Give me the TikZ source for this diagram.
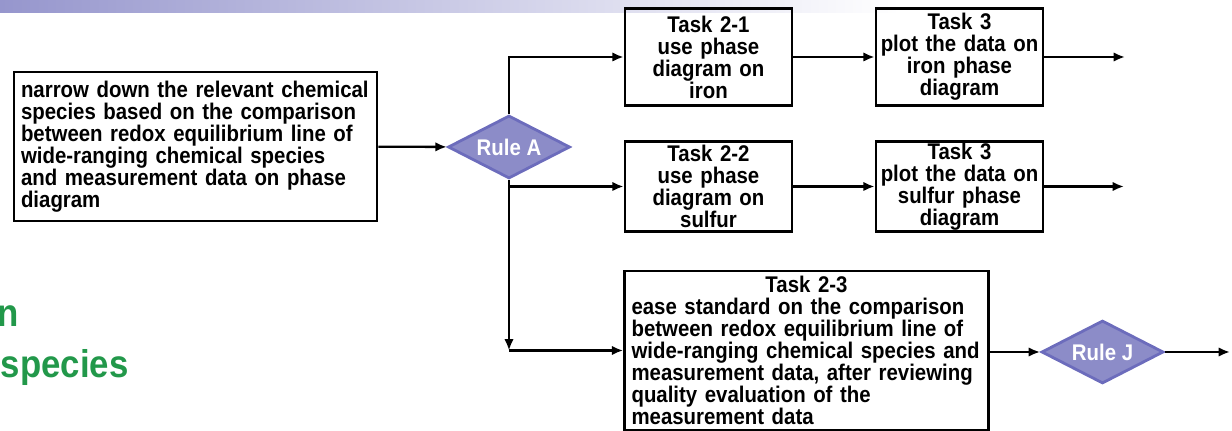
\documentclass[tikz,border=0pt]{standalone}
\usepackage{fontspec}
\setmainfont{Liberation Sans}[FakeStretch=0.9]
\usepackage{xcolor}
\usetikzlibrary{arrows.meta,positioning,shapes.geometric}
\definecolor{rulefill}{RGB}{140,140,200}
\definecolor{ruledraw}{RGB}{108,108,188}
\definecolor{barblue}{RGB}{150,150,205}
\definecolor{slidegreen}{RGB}{34,152,74}

\begin{document}
\begin{tikzpicture}[
    x=0.02cm, y=-0.02cm,
    font=\fontsize{12.9pt}{12.5pt}\selectfont\bfseries,
    >={Latex[length=6.5pt,width=5.4pt]},
    box/.style={draw, line width=1.5pt, align=center, text width=3.3cm, inner xsep=0.02cm, inner ysep=0pt, minimum height=1.8cm},
    wide/.style={box, align=left, inner xsep=0.14cm},
    rule/.style={diamond, shape aspect=2, draw=ruledraw, fill=rulefill, line width=1.6pt, text=white, minimum width=2.44cm, minimum height=1.26cm, inner sep=0pt},
    slide/.style={anchor=base east, inner sep=0pt, text=slidegreen, font=\fontsize{22pt}{22pt}\selectfont\bfseries},
    arrow/.style={->, line width=1.3pt}
]
\useasboundingbox (0,0) rectangle (1232,431);
\shade[left color=barblue, right color=white] (0,0) rectangle (900,13);
\node[slide] (wordn) at (19,327) {n};
\node[slide] (wordspecies) at (129,378) {species};

\node[wide, text width=6.98cm, minimum height=2.98cm] (narrow) at (195.5,146.5) {narrow down the relevant chemical\\species based on the comparison\\between redox equilibrium line of\\wide-ranging chemical species\\and measurement data on phase\\diagram};
\node[rule] (ruleA) at (509,147) {Rule A};
\node[box, minimum height=1.95cm] (task21) at (708.5,57) {Task 2-1\\use phase\\diagram on\\iron};
\node[box, minimum height=1.95cm] (task31) at (959.5,57) {Task 3\\plot the data on\\iron phase\\diagram};
\node[box] (task22) at (708.5,186.5) {Task 2-2\\use phase\\diagram on\\sulfur};
\node[box] (task32) at (959.5,186.5) {Task 3\\plot the data on\\sulfur phase\\diagram};
\node[wide, text width=7cm, minimum height=3.18cm] (task23) at (806.5,350.5) {\makebox[7cm]{Task 2-3}\\ease standard on the comparison\\between redox equilibrium line of\\wide-ranging chemical species and\\measurement data, after reviewing\\quality evaluation of the\\measurement data};
\node[rule] (ruleJ) at (1102.5,352) {Rule J};

\coordinate (bend) at (ruleA.south |- task23.west);
\coordinate (out1) at (1125,57);
\coordinate (out2) at (1124,186.5);
\coordinate (out3) at (1230,352);

\draw[arrow] (narrow) -- (ruleA);
\draw[arrow] (ruleA.north) |- (task21.west);
\draw[arrow] (ruleA.south) -- (bend);
\draw[arrow] (ruleA.south |- task22.west) -- (task22.west);
\draw[arrow] (bend) -- (task23.west);
\draw[arrow] (task21) -- (task31);
\draw[arrow] (task22) -- (task32);
\draw[arrow] (task31) -- (out1);
\draw[arrow] (task32) -- (out2);
\draw[arrow] (task23.east |- ruleJ.west) -- (ruleJ.west);
\draw[arrow] (ruleJ) -- (out3);
\end{tikzpicture}
\end{document}
